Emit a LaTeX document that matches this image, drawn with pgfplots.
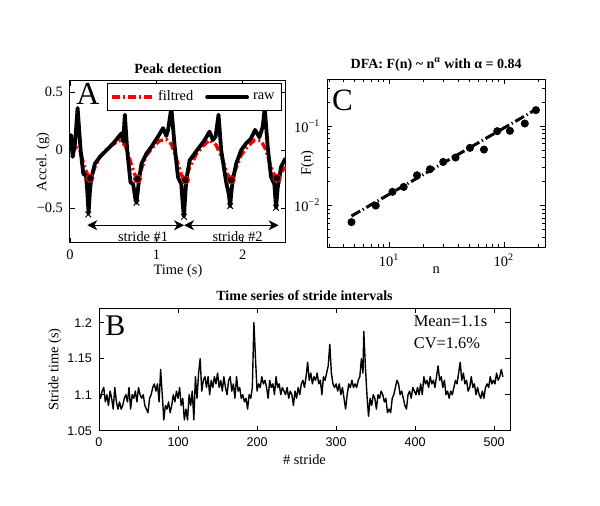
\documentclass[border=0pt]{standalone}
\usepackage{pgfplots}
\pgfplotsset{compat=1.18}
\usepackage{pgfplotstable}
\usepackage{fontspec}
\setmainfont{Liberation Serif}
\setsansfont{Liberation Sans}
\usetikzlibrary{arrows.meta}

\pgfplotstableread{
x y
0.012 0.131
0.031 -0.058
0.058 0.058
0.088 0.364
0.123 0.0
0.154 -0.204
0.185 -0.219
0.200 -0.35
0.215 -0.545
0.231 -0.35
0.246 -0.242
0.288 -0.117
0.346 -0.058
0.423 0
0.500 0.058
0.558 0.111
0.596 0.146
0.615 0.073
0.635 0.306
0.662 0
0.700 -0.277
0.731 -0.292
0.754 -0.408
0.769 -0.452
0.785 -0.35
0.800 -0.248
0.827 -0.117
0.885 -0.029
0.942 0.029
1.019 0.117
1.077 0.19
1.115 0.122
1.135 0.175
1.173 0.364
1.212 0.029
1.250 -0.233
1.288 -0.292
1.308 -0.496
1.319 -0.569
1.335 -0.379
1.346 -0.257
1.385 -0.087
1.442 -0.029
1.500 0.029
1.558 0.087
1.615 0.160
1.654 0.087
1.685 0.117
1.719 0.306
1.750 0
1.808 -0.277
1.838 -0.379
1.854 -0.481
1.869 -0.35
1.885 -0.257
1.923 -0.117
1.981 0
2.038 0.058
2.096 0.102
2.142 0.175
2.192 0.111
2.231 0.204
2.254 0.364
2.288 0.029
2.327 -0.233
2.365 -0.292
2.385 -0.496
2.404 -0.321
2.423 -0.242
2.442 -0.146
2.492 -0.073
}\rawtab

\pgfplotstableread{
x y
0.012 0.058
0.058 0.029
0.115 0
0.162 -0.131
0.200 -0.204
0.238 -0.248
0.288 -0.146
0.346 -0.058
0.423 0.006
0.500 0.052
0.577 0.082
0.635 0.044
0.673 -0.029
0.712 -0.131
0.750 -0.21
0.785 -0.251
0.827 -0.16
0.885 -0.044
0.962 0.029
1.038 0.082
1.115 0.093
1.173 0.052
1.231 -0.073
1.288 -0.21
1.335 -0.262
1.385 -0.146
1.462 -0.035
1.538 0.035
1.615 0.087
1.692 0.044
1.762 -0.073
1.819 -0.204
1.865 -0.257
1.923 -0.152
1.981 -0.044
2.058 0.035
2.135 0.087
2.212 0.082
2.269 0
2.327 -0.146
2.369 -0.219
2.408 -0.248
2.454 -0.181
2.492 -0.146
}\filttab

\pgfplotstableread{
n F
4.7 0.0062
7.65 0.0100
10.7 0.0149
13.4 0.0172
17.5 0.0241
22.7 0.0287
29.6 0.0355
37.9 0.0403
50.6 0.0533
67 0.0508
87.5 0.0865
112.8 0.0873
152 0.108
190 0.159
}\dfatab

\pgfplotstableread{
s t
0 1.100
2 1.095
4 1.105
6 1.110
8 1.090
10 1.100
12 1.085
14 1.105
16 1.095
18 1.080
20 1.110
22 1.090
24 1.080
26 1.090
28 1.080
30 1.085
32 1.095
34 1.100
36 1.090
38 1.110
40 1.080
42 1.100
44 1.095
46 1.105
48 1.090
50 1.110
52 1.100
54 1.095
56 1.100
58 1.085
60 1.080
62 1.075
64 1.095
66 1.100
68 1.110
70 1.115
72 1.105
74 1.115
76 1.090
78 1.135
80 1.100
82 1.065
84 1.085
86 1.080
88 1.090
90 1.075
92 1.085
94 1.100
96 1.090
98 1.105
100 1.095
102 1.110
104 1.085
106 1.095
108 1.065
110 1.080
112 1.065
114 1.100
116 1.085
118 1.105
120 1.065
122 1.125
124 1.095
126 1.130
128 1.150
130 1.105
132 1.120
134 1.125
136 1.110
138 1.125
140 1.100
142 1.120
144 1.110
146 1.125
148 1.115
150 1.130
152 1.110
154 1.120
156 1.105
158 1.125
160 1.110
162 1.100
164 1.120
166 1.125
168 1.105
170 1.115
172 1.095
174 1.125
176 1.105
178 1.110
180 1.095
182 1.100
184 1.090
186 1.095
188 1.080
190 1.100
192 1.095
194 1.110
196 1.200
198 1.150
200 1.105
202 1.115
204 1.110
206 1.125
208 1.115
210 1.120
212 1.110
214 1.095
216 1.120
218 1.110
220 1.115
222 1.100
224 1.125
226 1.110
228 1.115
230 1.100
232 1.110
234 1.105
236 1.100
238 1.110
240 1.095
242 1.105
244 1.100
246 1.085
248 1.105
250 1.095
252 1.110
254 1.100
256 1.115
258 1.120
260 1.110
262 1.125
264 1.145
266 1.120
268 1.130
270 1.115
272 1.125
274 1.120
276 1.130
278 1.115
280 1.120
282 1.100
284 1.125
286 1.120
288 1.130
290 1.140
292 1.170
294 1.130
296 1.115
298 1.110
300 1.115
302 1.105
304 1.115
306 1.100
308 1.110
310 1.095
312 1.080
314 1.100
316 1.115
318 1.110
320 1.120
322 1.110
324 1.115
326 1.110
328 1.120
330 1.125
332 1.150
334 1.130
335 1.188
337 1.140
339 1.100
341 1.070
343 1.095
345 1.085
347 1.100
349 1.095
351 1.080
353 1.100
355 1.095
357 1.105
359 1.100
361 1.090
363 1.095
365 1.075
367 1.080
369 1.075
371 1.095
373 1.100
375 1.110
377 1.120
379 1.115
381 1.100
383 1.105
385 1.095
387 1.085
389 1.080
391 1.100
393 1.105
395 1.095
397 1.110
399 1.105
401 1.100
403 1.110
405 1.100
407 1.115
409 1.100
411 1.125
413 1.115
415 1.120
417 1.110
419 1.125
421 1.115
423 1.120
425 1.110
427 1.125
429 1.140
431 1.120
433 1.125
435 1.110
437 1.120
439 1.100
441 1.105
443 1.095
445 1.105
447 1.100
449 1.110
451 1.120
453 1.115
455 1.130
457 1.145
459 1.120
461 1.130
463 1.115
465 1.120
467 1.105
469 1.110
471 1.125
473 1.110
475 1.115
477 1.100
479 1.110
481 1.100
483 1.095
485 1.105
487 1.095
489 1.110
491 1.115
493 1.110
495 1.125
497 1.115
499 1.120
501 1.115
503 1.130
505 1.120
507 1.125
509 1.135
511 1.125
}\stridetab

\begin{document}
\begin{tikzpicture}
\path[use as bounding box] (0,0) rectangle (300pt,253pt);
\pgfplotsset{every axis/.append style={
  scale only axis, anchor=south west,
  tick align=inside, major tick length=2.5pt, minor tick length=1.5pt,
  tick style={black, line width=0.4pt},
  axis line style={line width=0.5pt},
  tick label style={font=\fontsize{7.2}{8}\selectfont},
  label style={font=\fontsize{7.2}{8}\selectfont},
  title style={font=\fontsize{7}{8}\selectfont\bfseries, yshift=-3.5pt, inner sep=1pt},
}}

% Panel A
\begin{axis}[at={(35pt,131.5pt)}, width=108pt, height=81.2pt,
  xmin=0, xmax=2.5, ymin=-0.8, ymax=0.6,
  xtick={0,1,2}, xticklabels={0,1,2},
  ytick={-0.5,0,0.5}, yticklabels={−0.5,0,0.5},
  xlabel={Time (s)}, ylabel={Accel. (g)}, title={Peak detection},
  xlabel style={at={(axis description cs:0.5,-0.172)}, anchor=center},
  ylabel style={at={(axis description cs:-0.125,0.5)}, anchor=center},
  legend columns=2,
  legend style={at={(1,1)}, anchor=north east, xshift=-2pt, yshift=-1.3pt,
    font=\fontsize{7.2}{8}\selectfont, draw=black, line width=0.4pt,
    inner sep=1.5pt, cells={anchor=west},
    /tikz/every even column/.append style={column sep=4pt}},
  legend image code/.code={\draw[#1] (0pt,0pt) -- (20pt,0pt);},
]
\addplot[red, line width=1.7pt, line join=round, dash pattern=on 4pt off 1.5pt on 1pt off 1.5pt] table[x=x,y=y] {\filttab};
\addlegendentry{filtred}
\addplot[black, line width=1.9pt, line join=round, line cap=round] table[x=x,y=y] {\rawtab};
\addlegendentry{raw\hspace{1pt}}
\addplot[only marks, mark=*, mark size=2pt, mark options={fill=black, draw=red, line width=0.5pt}, forget plot]
  coordinates {(0.231,-0.242) (0.781,-0.248) (1.335,-0.257) (1.865,-0.257) (2.396,-0.242)};
\addplot[only marks, mark=x, mark size=2pt, mark options={black, line width=0.5pt}, forget plot]
  coordinates {(0.212,-0.554) (0.769,-0.452) (1.319,-0.574) (1.854,-0.481) (2.385,-0.496)};
\draw[{Stealth[length=5pt,width=5pt,inset=1.5pt]}-{Stealth[length=5pt,width=5pt,inset=1.5pt]}, line width=0.5pt]
  (axis cs:0.2,-0.647) -- (axis cs:1.32,-0.647);
\draw[{Stealth[length=5pt,width=5pt,inset=1.5pt]}-{Stealth[length=5pt,width=5pt,inset=1.5pt]}, line width=0.5pt]
  (axis cs:1.32,-0.647) -- (axis cs:2.415,-0.647);
\node[anchor=south, inner sep=0.5pt, font=\fontsize{7.2}{8}\selectfont] at (axis cs:0.846,-0.8) {stride \#1};
\node[anchor=south, inner sep=0.5pt, font=\fontsize{7.2}{8}\selectfont] at (axis cs:1.94,-0.8) {stride \#2};
\node[anchor=north west, inner sep=0pt, font=\fontsize{16}{16}\selectfont] at (rel axis cs:0.028,0.984) {A};
\end{axis}

% Panel C
\begin{axis}[at={(163.7pt,129.4pt)}, width=108.8pt, height=84pt,
  xmode=log, ymode=log,
  xmin=2.9, xmax=228, ymin=0.003, ymax=0.39,
  xtick={10,100}, xticklabels={10\textsuperscript{1},10\textsuperscript{2}},
  ytick={0.01,0.1}, yticklabels={10\textsuperscript{−2},10\textsuperscript{−1}},
  minor xtick={3,4,5,6,7,8,9,20,30,40,50,60,70,80,90,200},
  minor ytick={0.003,0.004,0.005,0.006,0.007,0.008,0.009,0.02,0.03,0.04,0.05,0.06,0.07,0.08,0.09,0.2,0.3},
  xlabel={n}, ylabel={F(n)},
  xlabel style={at={(axis description cs:0.5,-0.137)}, anchor=center},
  ylabel style={at={(axis description cs:-0.092,0.5)}, anchor=center},
  title={DFA: F(n) \textasciitilde{} n\textsuperscript{α} with α = 0.84},
]
\addplot[black, line width=1.5pt, dash pattern=on 5pt off 1.5pt on 0.6pt off 1.5pt] coordinates {(4.7,0.0074) (190,0.162)};
\addplot[only marks, mark=*, mark size=1.8pt, black] table[x=n,y=F] {\dfatab};
\node[anchor=north west, inner sep=0pt, font=\fontsize{15.5}{15.5}\selectfont] at (rel axis cs:0.02,0.936) {C};
\end{axis}

% Panel B
\begin{axis}[at={(49.5pt,37.65pt)}, width=205.5pt, height=61.2pt,
  xmin=0, xmax=520, ymin=1.05, ymax=1.22,
  xtick={0,100,200,300,400,500}, xticklabels={0,100,200,300,400,500},
  ytick={1.05,1.1,1.15,1.2}, yticklabels={1.05,1.1,1.15,1.2},
  tick label style={font=\fontsize{6.3}{7}\selectfont\sffamily},
  xlabel={\# stride}, ylabel={Stride time (s)},
  xlabel style={at={(axis description cs:0.5,-0.239)}, anchor=center},
  ylabel style={at={(axis description cs:-0.107,0.5)}, anchor=center},
  title={Time series of stride intervals},
]
\addplot[black, line width=0.7pt, line join=round] table[x=s,y=t] {\stridetab};
\node[anchor=north west, inner sep=0pt, align=left, font=\fontsize{8.2}{11}\selectfont] at (rel axis cs:0.765,0.945) {Mean=1.1s\\CV=1.6\%};
\node[anchor=north west, inner sep=0pt, font=\fontsize{15}{15}\selectfont] at (rel axis cs:0.0146,0.94) {B};
\end{axis}
\end{tikzpicture}
\end{document}
